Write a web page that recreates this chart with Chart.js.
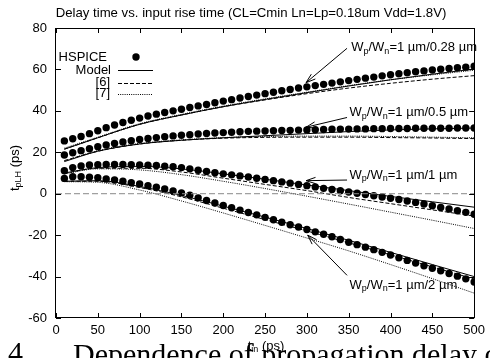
<!DOCTYPE html>
<html>
<head>
<meta charset="utf-8">
<script src="https://cdn.jsdelivr.net/npm/chart.js@4/dist/chart.umd.min.js"></script>
<style>
  html, body { margin: 0; padding: 0; background: #fff; }
  #wrap { width: 490px; height: 358px; overflow: hidden; }
</style>
</head>
<body>
<div id="wrap"><canvas id="chart" width="490" height="358"></canvas></div>
<script>
// input rise time (ps) for the HSPICE points
const tIn = [10, 20, 30, 40, 50, 60, 70, 80, 90, 100,
  110, 120, 130, 140, 150, 160, 170, 180, 190, 200,
  210, 220, 230, 240, 250, 260, 270, 280, 290, 300,
  310, 320, 330, 340, 350, 360, 370, 380, 390, 400,
  410, 420, 430, 440, 450, 460, 470, 480, 490, 500];

// HSPICE delay (ps), one array per Wp/Wn ratio
const hspice028 = [25.5, 26.5, 27.6, 29.0, 30.4, 31.9, 33.2, 34.4, 35.5, 36.5,
  37.5, 38.4, 39.2, 40.0, 40.8, 41.6, 42.4, 43.1, 43.9, 44.7,
  45.4, 46.2, 46.9, 47.6, 48.3, 49.0, 49.7, 50.3, 51.0, 51.6,
  52.2, 52.8, 53.4, 54.0, 54.6, 55.2, 55.8, 56.3, 56.9, 57.4,
  57.9, 58.4, 58.9, 59.3, 59.7, 60.1, 60.5, 60.8, 61.1, 61.5];
const hspice05 = [18.7, 19.8, 20.8, 21.7, 22.7, 23.5, 24.3, 25.0, 25.6, 26.2,
  26.7, 27.1, 27.5, 27.9, 28.2, 28.5, 28.8, 29.1, 29.3, 29.5,
  29.7, 29.9, 30.1, 30.2, 30.3, 30.4, 30.5, 30.6, 30.7, 30.8,
  30.9, 31.0, 31.1, 31.2, 31.2, 31.3, 31.3, 31.4, 31.4, 31.5,
  31.5, 31.5, 31.6, 31.6, 31.6, 31.6, 31.6, 31.7, 31.7, 31.7];
const hspice1 = [11.1, 12.6, 13.4, 13.9, 14.0, 14.1, 14.1, 14.1, 14.0, 13.9,
  13.8, 13.6, 13.3, 13.0, 12.6, 12.0, 11.3, 10.7, 10.1, 9.6,
  9.1, 8.6, 8.1, 7.5, 6.9, 6.3, 5.7, 5.1, 4.5, 3.9,
  3.3, 2.6, 2.0, 1.4, 0.8, 0.2, -0.4, -1.0, -1.6, -2.2,
  -2.8, -3.5, -4.2, -5.0, -5.8, -6.6, -7.4, -8.2, -9.0, -9.9];
const hspice2 = [7.4, 8.2, 8.2, 8.0, 7.7, 7.1, 6.6, 6.0, 5.3, 4.7,
  3.9, 3.1, 2.3, 1.3, 0.4, -0.7, -2.0, -3.3, -4.5, -5.7,
  -6.8, -7.9, -9.1, -10.2, -11.4, -12.6, -13.8, -15.0, -16.1, -17.3,
  -18.4, -19.6, -20.8, -22.1, -23.4, -24.6, -25.8, -27.0, -28.3, -29.6,
  -30.9, -32.2, -33.5, -34.8, -36.0, -37.2, -38.5, -39.8, -41.1, -42.6];

// rise times used for the model curves
const tLine = [10, 50, 100, 150, 200, 250, 300, 350, 400, 450, 500];

const model028 = [21.5, 27.0, 33.5, 38.0, 42.0, 45.5, 48.8, 52.0, 55.0, 57.7, 60.2];
const ref6_028 = [21.5, 27.0, 33.5, 38.0, 42.0, 45.3, 48.3, 51.0, 53.3, 55.3, 57.0];
const ref7_028 = [22.0, 27.3, 33.8, 38.3, 42.3, 45.8, 49.0, 52.2, 55.0, 57.4, 59.6];

const model05 = [15.5, 20.5, 24.0, 25.8, 27.0, 28.0, 29.0, 30.0, 30.8, 31.3, 31.7];
const ref6_05 = [16.0, 20.5, 24.0, 25.8, 26.8, 27.2, 27.3, 27.3, 27.1, 26.9, 26.6];
const ref7_05 = [15.8, 20.8, 24.3, 26.0, 27.1, 27.6, 27.8, 27.8, 27.6, 27.3, 27.0];

const model1 = [10.0, 12.6, 13.2, 12.0, 9.6, 7.0, 4.2, 1.5, -1.3, -3.9, -6.5];
const ref6_1 = [9.8, 12.3, 12.3, 10.5, 7.5, 4.5, 1.5, -1.8, -4.8, -7.8, -10.8];
const ref7_1 = [9.6, 12.0, 11.5, 9.2, 6.0, 2.5, -1.2, -5.0, -8.9, -12.8, -16.8];

const model2 = [6.0, 6.3, 3.5, -0.8, -6.0, -11.3, -16.8, -22.5, -28.3, -34.2, -40.0];
const ref6_2 = [6.0, 6.0, 3.0, -1.5, -7.0, -12.5, -18.0, -23.7, -29.5, -35.3, -41.2];
const ref7_2 = [5.8, 5.5, 1.8, -3.5, -9.3, -15.3, -21.4, -27.6, -34.2, -41.0, -48.0];

const xTicks = [0, 50, 100, 150, 200, 250, 300, 350, 400, 450, 500];
const yTicks = [-60, -40, -20, 0, 20, 40, 60, 80];

const legendNames = ['HSPICE', 'Model', '[6]', '[7]'];

// ratio labels: text anchor, arrow start and arrow tip, in data units
const annotations = [
  { ratio: '0.28 \u00b5m', text: [353, 70.6], from: [348, 70.2], to: [299, 53.6] },
  { ratio: '0.5 \u00b5m', text: [351, 39.1], from: [348, 36.8], to: [299, 32.1] },
  { ratio: '1 \u00b5m', text: [351, 9.0], from: [348, 6.6], to: [299, 6.3] },
  { ratio: '2 \u00b5m', text: [351, -44.1], from: [348, -39.4], to: [301, -20.0] }
];

const FONT = "'Liberation Sans', Arial, sans-serif";

function pairs(xs, ys) {
  return ys.map((y, i) => ({ x: xs[i], y }));
}

function dots(ys) {
  return {
    type: 'scatter',
    data: pairs(tIn, ys),
    pointRadius: 3.7,
    pointBackgroundColor: '#000',
    pointBorderWidth: 0,
    showLine: false
  };
}

function curve(ys, dash) {
  return {
    type: 'line',
    data: pairs(tLine, ys),
    borderColor: '#000',
    borderWidth: 1,
    borderDash: dash,
    pointRadius: 0,
    cubicInterpolationMode: 'monotone',
    fill: false
  };
}

const SOLID = [];
const DASHED = [4, 2];
const DOTTED = [1, 1.2];

const datasets = [
  {
    type: 'line',
    data: [{ x: 0, y: 0 }, { x: 500, y: 0 }],
    borderColor: '#888',
    borderWidth: 1,
    borderDash: [6, 3],
    pointRadius: 0
  },
  curve(model028, SOLID), curve(ref6_028, DASHED), curve(ref7_028, DOTTED),
  curve(model05, SOLID), curve(ref6_05, DASHED), curve(ref7_05, DOTTED),
  curve(model1, SOLID), curve(ref6_1, DASHED), curve(ref7_1, DOTTED),
  curve(model2, SOLID), curve(ref6_2, DASHED), curve(ref7_2, DOTTED),
  dots(hspice028), dots(hspice05), dots(hspice1), dots(hspice2)
];

function drawSubText(ctx, parts, x, y, size) {
  let cx = x;
  parts.forEach(([txt, sub]) => {
    ctx.font = `${sub ? Math.round(size * 0.7) : size}px ${FONT}`;
    ctx.fillText(txt, cx, sub ? y + size * 0.3 : y);
    cx += ctx.measureText(txt).width;
  });
  return cx - x;
}

function measureSubText(ctx, parts, size) {
  let w = 0;
  parts.forEach(([txt, sub]) => {
    ctx.font = `${sub ? Math.round(size * 0.7) : size}px ${FONT}`;
    w += ctx.measureText(txt).width;
  });
  return w;
}

function arrow(ctx, x1, y1, x2, y2) {
  const ang = Math.atan2(y2 - y1, x2 - x1);
  const len = 10;
  const spread = 0.32;
  ctx.beginPath();
  ctx.moveTo(x1, y1);
  ctx.lineTo(x2, y2);
  ctx.moveTo(x2 - len * Math.cos(ang - spread), y2 - len * Math.sin(ang - spread));
  ctx.lineTo(x2, y2);
  ctx.lineTo(x2 - len * Math.cos(ang + spread), y2 - len * Math.sin(ang + spread));
  ctx.stroke();
}

const decorations = {
  id: 'decorations',
  afterDraw(chart) {
    const { ctx, chartArea: a, scales } = chart;
    const xs = scales.x;
    const ys = scales.y;
    ctx.save();
    ctx.strokeStyle = '#000';
    ctx.fillStyle = '#000';
    ctx.lineWidth = 1;

    // frame
    ctx.strokeRect(Math.round(a.left) - 0.5, Math.round(a.top) + 0.5,
      Math.round(a.right - a.left) + 1, Math.round(a.bottom - a.top) - 1);

    // inward ticks on all four sides
    ctx.beginPath();
    xTicks.forEach((v) => {
      const px = Math.round(xs.getPixelForValue(v)) + 0.5;
      ctx.moveTo(px, a.bottom);
      ctx.lineTo(px, a.bottom - 5);
      ctx.moveTo(px, a.top);
      ctx.lineTo(px, a.top + 5);
    });
    yTicks.forEach((v) => {
      const py = Math.round(ys.getPixelForValue(v)) + 0.5;
      ctx.moveTo(a.left, py);
      ctx.lineTo(a.left + 5, py);
      ctx.moveTo(a.right, py);
      ctx.lineTo(a.right - 5, py);
    });
    ctx.stroke();

    // title
    ctx.font = `13.2px ${FONT}`;
    ctx.textAlign = 'center';
    ctx.textBaseline = 'alphabetic';
    ctx.fillText('Delay time vs. input rise time (CL=Cmin Ln=Lp=0.18um Vdd=1.8V)', 251, 17);

    // legend
    ctx.font = `13px ${FONT}`;
    ctx.textAlign = 'right';
    ctx.textBaseline = 'middle';
    const legY = [57, 70, 82.5, 93.5];
    const legRight = [107, 111, 110, 110];
    legendNames.forEach((name, i) => {
      ctx.fillText(name, legRight[i], legY[i]);
    });
    ctx.beginPath();
    ctx.arc(136, legY[0], 3.7, 0, Math.PI * 2);
    ctx.fill();
    [SOLID, DASHED, DOTTED].forEach((dash, i) => {
      ctx.setLineDash(dash);
      ctx.beginPath();
      ctx.moveTo(118, Math.round(legY[i + 1]) + 0.5);
      ctx.lineTo(153, Math.round(legY[i + 1]) + 0.5);
      ctx.stroke();
    });
    ctx.setLineDash([]);

    // ratio labels with arrows
    ctx.textAlign = 'left';
    ctx.textBaseline = 'middle';
    annotations.forEach((an) => {
      const parts = [['W', false], ['p', true], ['/W', false], ['n', true],
        ['=1 \u00b5m/' + an.ratio, false]];
      drawSubText(ctx, parts, xs.getPixelForValue(an.text[0]), ys.getPixelForValue(an.text[1]), 13);
      arrow(ctx, xs.getPixelForValue(an.from[0]), ys.getPixelForValue(an.from[1]),
        xs.getPixelForValue(an.to[0]), ys.getPixelForValue(an.to[1]));
    });

    // x axis title
    const xParts = [['t', false], ['in', true], [' (ps)', false]];
    const xw = measureSubText(ctx, xParts, 13);
    drawSubText(ctx, xParts, 266 - xw / 2, 346, 13);

    // y axis title, rotated
    const yParts = [['t', false], ['pLH', true], [' (ps)', false]];
    const yw = measureSubText(ctx, yParts, 13);
    ctx.save();
    ctx.translate(15, 168);
    ctx.rotate(-Math.PI / 2);
    drawSubText(ctx, yParts, -yw / 2, 0, 13);
    ctx.restore();

    // caption of the page below, cut off by the bottom edge
    ctx.font = "30px 'Liberation Serif', 'Times New Roman', serif";
    ctx.textBaseline = 'alphabetic';
    ctx.textAlign = 'left';
    ctx.fillText('4.', 8, 362);
    ctx.fillText('Dependence of propagation delay on input transition time', 73, 364);

    ctx.restore();
  }
};

new Chart(document.getElementById('chart'), {
  data: { datasets },
  options: {
    responsive: false,
    animation: false,
    devicePixelRatio: 1,
    layout: { padding: { top: 28, right: 10, left: 0, bottom: 0 } },
    plugins: {
      legend: { display: false },
      tooltip: { enabled: false },
      title: { display: false }
    },
    scales: {
      x: {
        type: 'linear',
        min: 0,
        max: 500,
        afterBuildTicks: (scale) => { scale.ticks = xTicks.map((v) => ({ value: v })); },
        ticks: { color: '#000', font: { family: FONT, size: 13 }, padding: 5, maxRotation: 0 },
        grid: { display: false, drawTicks: false },
        border: { display: false },
        afterFit: (scale) => { scale.height = 40; }
      },
      y: {
        type: 'linear',
        min: -60,
        max: 80,
        afterBuildTicks: (scale) => { scale.ticks = yTicks.map((v) => ({ value: v })); },
        ticks: { color: '#000', font: { family: FONT, size: 13 }, padding: 9 },
        grid: { display: false, drawTicks: false },
        border: { display: false },
        afterFit: (scale) => { scale.width = 56; }
      }
    }
  },
  plugins: [decorations]
});
</script>
</body>
</html>
